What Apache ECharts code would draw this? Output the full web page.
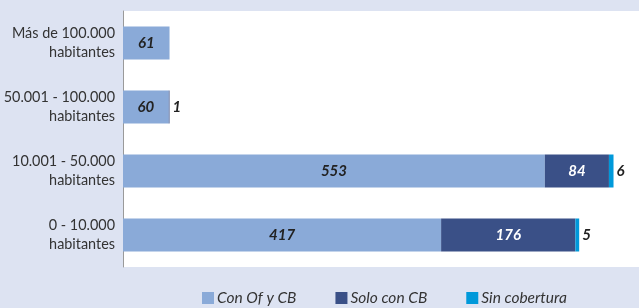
<!DOCTYPE html>
<html><head><meta charset="utf-8">
<script src="https://cdn.jsdelivr.net/npm/echarts@6/dist/echarts.min.js"></script>
<style>html,body{margin:0;padding:0;background:#DDE3F2;}#c{width:639px;height:308px;}</style>
</head><body><div id="c"></div>
<script>
const categories = ['0 - 10.000\nhabitantes', '10.001 - 50.000\nhabitantes', '50.001 - 100.000\nhabitantes', 'Más de 100.000\nhabitantes'];
const seriesNames = ['Con Of y CB', 'Solo con CB', 'Sin cobertura'];
const conOfCB = [417, 553, 60, 61];
const soloCB = [176, 84, 1, null];
const sinCobertura = [5, 6, null, null];

const font = 'Lato';
const valLabel = {show: true, fontFamily: font, fontStyle: 'italic', fontWeight: 'bold', fontSize: 15};
const chart = echarts.init(document.getElementById('c'));
chart.setOption({
  backgroundColor: '#DDE3F2',
  animation: false,
  grid: {left: 123, top: 11, bottom: 41, right: -18, show: true, backgroundColor: '#fff', borderWidth: 0, containLabel: false, outerBoundsMode: 'none'},
  legend: {
    bottom: 2, left: 202, padding: 0, itemWidth: 12, itemHeight: 12, itemGap: 39,
    icon: 'rect',
    textStyle: {fontFamily: font, fontStyle: 'italic', fontSize: 15.5, color: '#333', padding: [0, 0, 0, -2]},
    data: seriesNames
  },
  xAxis: {type: 'value', min: 0, max: 700, show: false},
  yAxis: {
    type: 'category', data: categories,
    axisLine: {show: true, lineStyle: {color: '#9a9a9a', width: 1}},
    axisTick: {show: false},
    axisLabel: {fontFamily: font, fontSize: 14.4, color: '#333', lineHeight: 19, margin: 8, align: 'right'}
  },
  series: [
    {name: seriesNames[0], type: 'bar', stack: 't', data: conOfCB, barWidth: 33,
     itemStyle: {color: '#8AAAD8'},
     label: Object.assign({}, valLabel, {position: 'inside', color: '#222'})},
    {name: seriesNames[1], type: 'bar', stack: 't', barWidth: 33,
     data: soloCB.map(v => v !== null && v < 10 ? {value: v, label: {position: 'right', color: '#222', distance: 3}} : v),
     itemStyle: {color: '#3A5087'},
     label: Object.assign({}, valLabel, {position: 'inside', color: '#fff'})},
    {name: seriesNames[2], type: 'bar', stack: 't', data: sinCobertura, barWidth: 33,
     itemStyle: {color: '#0099DA'},
     label: Object.assign({}, valLabel, {position: 'right', color: '#222', distance: 3})}
  ]
});
</script></body></html>
